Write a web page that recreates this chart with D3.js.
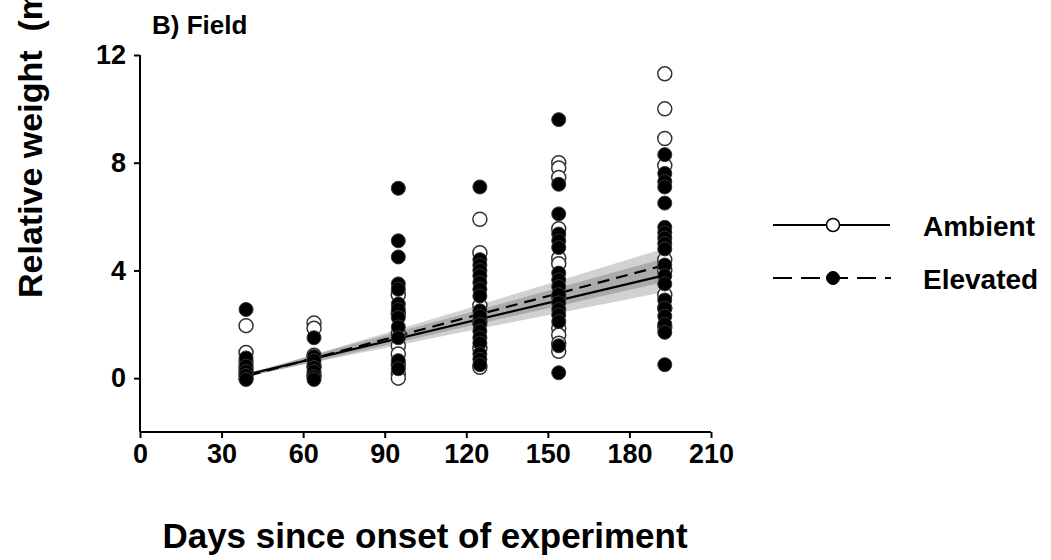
<!DOCTYPE html>
<html>
<head>
<meta charset="utf-8">
<script src="https://cdn.jsdelivr.net/npm/d3@7"></script>
<style>
  html, body { margin: 0; padding: 0; background: #fff; }
  svg { display: block; font-family: "Liberation Sans", Arial, sans-serif; font-weight: bold; }
</style>
</head>
<body>
<svg id="chart" width="1051" height="560"></svg>
<script>
// ---- data ----
const sampleDays = [39, 64, 95, 125, 154, 193];
const ambientValues = [
  [1.95, 0.95, 0.6, 0.35, 0.15, 0.0],
  [2.05, 1.85, 0.85, 0.45, 0.1],
  [3.1, 2.4, 1.65, 1.2, 0.9, 0.5, 0.15, 0.0],
  [5.9, 4.66, 2.7, 2.1, 1.1, 0.4],
  [8.0, 7.8, 7.45, 5.55, 4.45, 4.25, 3.0, 1.85, 1.6, 1.3, 1.0],
  [11.3, 10.0, 8.9, 7.9, 4.4, 4.0, 3.1, 2.6, 1.9]
];
const elevatedValues = [
  [2.55, 0.75, 0.45, 0.25, 0.1, -0.05],
  [1.5, 0.8, 0.65, 0.4, 0.25, 0.05, -0.05],
  [7.05, 5.1, 4.5, 3.5, 3.3, 2.75, 2.55, 2.25, 1.9, 1.5, 0.65, 0.35],
  [7.1, 4.4, 4.2, 4.0, 3.8, 3.55, 3.3, 3.05, 2.5, 2.3, 2.0, 1.75, 1.5, 1.3, 0.9, 0.7, 0.5],
  [9.6, 7.2, 6.1, 5.35, 5.1, 4.85, 3.9, 3.65, 3.4, 3.1, 2.8, 2.55, 2.35, 2.1, 1.2, 0.2],
  [8.3, 7.6, 7.3, 7.1, 6.5, 5.6, 5.4, 5.2, 5.0, 4.8, 4.2, 3.8, 3.5, 2.9, 2.6, 2.3, 2.0, 1.7, 0.5]
];
const fitDays = [40, 192];
const ambientFit = [0.15, 3.80];
const elevatedFit = [0.10, 4.17];
const bandDays = [40, 95, 125, 154, 192];
const ambientLo = [0.10, 1.22, 1.84, 2.42, 3.18];
const ambientHi = [0.20, 1.72, 2.54, 3.36, 4.42];
const elevatedLo = [0.05, 1.32, 2.03, 2.68, 3.55];
const elevatedHi = [0.15, 1.82, 2.73, 3.62, 4.79];
const xTicks = [0, 30, 60, 90, 120, 150, 180, 210];
const yTicks = [0, 4, 8, 12];
const seriesNames = ["Ambient", "Elevated"];

// ---- layout ----
const svg = d3.select("#chart");
const x = d3.scaleLinear().domain([0, 210]).range([140, 711]);
const y = d3.scaleLinear().domain([-2, 12]).range([432, 55]);

// bands
const area = d3.area().x(d => x(d[0])).y0(d => y(d[1])).y1(d => y(d[2]));
svg.append("path")
  .datum(bandDays.map((d, i) => [d, ambientLo[i], ambientHi[i]]))
  .attr("d", area).attr("fill", "#000").attr("fill-opacity", 0.18);
svg.append("path")
  .datum(bandDays.map((d, i) => [d, elevatedLo[i], elevatedHi[i]]))
  .attr("d", area).attr("fill", "#000").attr("fill-opacity", 0.18);

// fit lines
const line = d3.line().x(d => x(d[0])).y(d => y(d[1]));
svg.append("path")
  .datum(fitDays.map((d, i) => [d, ambientFit[i]]))
  .attr("d", line).attr("fill", "none").attr("stroke", "#000").attr("stroke-width", 2.2);
svg.append("path")
  .datum(fitDays.map((d, i) => [d, elevatedFit[i]]))
  .attr("d", line).attr("fill", "none").attr("stroke", "#000").attr("stroke-width", 2.2)
  .attr("stroke-dasharray", "12,7");

// points
const ambPts = [], elevPts = [];
sampleDays.forEach((d, i) => {
  ambientValues[i].forEach(v => ambPts.push([d, v]));
  elevatedValues[i].forEach(v => elevPts.push([d, v]));
});
svg.append("g").selectAll("circle").data(ambPts).join("circle")
  .attr("cx", d => x(d[0])).attr("cy", d => y(d[1])).attr("r", 7)
  .attr("fill", "#fff").attr("stroke", "#333").attr("stroke-width", 1.5);
svg.append("g").selectAll("circle").data(elevPts).join("circle")
  .attr("cx", d => x(d[0])).attr("cy", d => y(d[1])).attr("r", 7)
  .attr("fill", "#000").attr("stroke", "#333").attr("stroke-width", 1);

// axes
const xAxis = d3.axisBottom(x).tickValues(xTicks).tickSize(6).tickPadding(6).tickFormat(d3.format("d"));
const yAxis = d3.axisLeft(y).tickValues(yTicks).tickSize(6).tickPadding(8).tickFormat(d3.format("d"));
const gx = svg.append("g").attr("transform", "translate(0,432)").call(xAxis);
const gy = svg.append("g").attr("transform", "translate(140,0)").call(yAxis);
[gx, gy].forEach(g => {
  g.select(".domain").attr("stroke", "#000").attr("stroke-width", 2);
  g.selectAll(".tick line").attr("stroke", "#000").attr("stroke-width", 2);
  g.selectAll(".tick text").attr("fill", "#000").style("font-size", "27px")
    .style("font-family", "Liberation Sans, Arial, sans-serif").style("font-weight", "bold");
});
gx.select(".domain").attr("d", "M140,0H711");
gy.select(".domain").attr("d", "M0,55V432");

// titles
svg.append("text").attr("x", 152).attr("y", 34).style("font-size", "26px").text("B) Field");
svg.append("text").attr("transform", "translate(42,298) rotate(-90)")
  .style("font-size", "34px").text("Relative weight\u00a0 (mg)");
svg.append("text").attr("x", 425).attr("y", 548).attr("text-anchor", "middle")
  .style("font-size", "35px").text("Days since onset of experiment");

// legend
const lg = svg.append("g");
const legY = [225, 278];
lg.append("line").attr("x1", 773).attr("x2", 890).attr("y1", legY[0]).attr("y2", legY[0])
  .attr("stroke", "#000").attr("stroke-width", 2.2);
lg.append("circle").attr("cx", 833).attr("cy", legY[0]).attr("r", 6.5)
  .attr("fill", "#fff").attr("stroke", "#000").attr("stroke-width", 1.5);
lg.append("line").attr("x1", 773).attr("x2", 891).attr("y1", legY[1]).attr("y2", legY[1])
  .attr("stroke", "#000").attr("stroke-width", 2.2).attr("stroke-dasharray", "19,9");
lg.append("circle").attr("cx", 833).attr("cy", legY[1]).attr("r", 6.5)
  .attr("fill", "#000").attr("stroke", "#000").attr("stroke-width", 1);
seriesNames.forEach((n, i) => {
  lg.append("text").attr("x", 923).attr("y", legY[i] + 11).style("font-size", "28px").text(n);
});
</script>
</body>
</html>
